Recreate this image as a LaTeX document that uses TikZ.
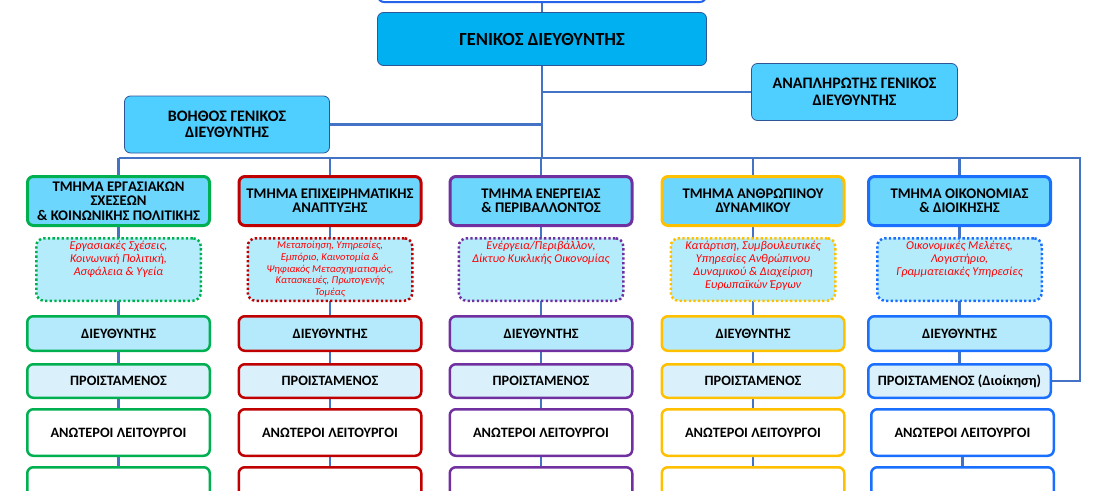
\documentclass[tikz,border=0pt]{standalone}
\usepackage{fontspec}
\setmainfont{Carlito}
\usepackage{tikz}
\usetikzlibrary{positioning}
\definecolor{lineblue}{HTML}{4472C4}
\definecolor{boardblue}{HTML}{2563EB}
\definecolor{gdfill}{HTML}{00B0F0}
\definecolor{gdborder}{HTML}{2F5597}
\definecolor{deputyfill}{HTML}{4FCFFF}
\definecolor{deptfill}{HTML}{6DD6FC}
\definecolor{dutyfill}{HTML}{B5ECFC}
\definecolor{dirfill}{HTML}{B4EAFB}
\definecolor{headfill}{HTML}{DAF1FC}
\definecolor{labour}{HTML}{00B050}
\definecolor{business}{HTML}{C00000}
\definecolor{energy}{HTML}{7030A0}
\definecolor{human}{HTML}{FFC000}
\definecolor{econ}{HTML}{1A6FFF}
\definecolor{dutyred}{HTML}{FF0000}
\newcommand{\duties}[1]{\parbox[c][56pt][t]{160pt}{\centering #1}}
\pgfdeclarelayer{background}
\pgfsetlayers{background,main}

\begin{document}
\begin{tikzpicture}[x=1pt,y=-1pt]
\tikzset{%
	board/.style = { rectangle, rounded corners=6pt, draw=boardblue, line width=2pt, fill=white, minimum width=328pt, minimum height=42pt},
	general/.style = { rectangle, rounded corners=6pt, draw=gdborder, line width=0.8pt, fill=gdfill, minimum width=329pt, minimum height=53pt, font=\bfseries\fontsize{18.5}{20}\selectfont},
	deputy/.style = { rectangle, rounded corners=6pt, draw=gdborder, line width=0.8pt, fill=deputyfill, minimum width=206pt, minimum height=57pt, align=center, font=\bfseries\fontsize{16}{16.5}\selectfont},
	dept/.style = { rectangle, rounded corners=6pt, draw=#1, line width=3pt, fill=deptfill, minimum width=182pt, minimum height=49pt, inner sep=2pt, align=center, font=\bfseries\fontsize{14.7}{14.3}\selectfont},
	duty/.style = { rectangle, rounded corners=8pt, draw=#1, line width=2.5pt, dash pattern=on 2.3pt off 2.3pt, fill=dutyfill, minimum width=164.5pt, minimum height=62.5pt, inner sep=0pt, text=dutyred, font=\itshape\fontsize{12}{12.8}\selectfont},
	director/.style = { rectangle, rounded corners=6pt, draw=#1, line width=2.5pt, fill=dirfill, minimum width=182.5pt, minimum height=34.5pt, font=\bfseries\fontsize{14.3}{15}\selectfont},
	head/.style = { director=#1, fill=headfill, minimum height=33.5pt},
	senior/.style = { director=#1, fill=white, minimum height=46.5pt},
	link/.style = { draw=lineblue, line width=2.8pt}
}
\clip (0,0) rectangle (1095,490);

\node(Board)			[board] at (542,-19) {};
\node(GenDir)			[general] at (542,39)
								{ΓΕΝΙΚΟΣ ΔΙΕΥΘΥΝΤΗΣ};
\node(DepGenDir)		[deputy, minimum width=206pt] at (854.5,92)
								{ΑΝΑΠΛΗΡΩΤΗΣ ΓΕΝΙΚΟΣ\\ΔΙΕΥΘΥΝΤΗΣ};
\node(AsstDir)			[deputy, minimum width=205pt] at (227,124.5)
								{ΒΟΗΘΟΣ ΓΕΝΙΚΟΣ\\ΔΙΕΥΘΥΝΤΗΣ};

\coordinate(BusL)		at (118.5,158);
\coordinate(BusM)		at (542,158);
\coordinate(BusR)		at (1080,158);

% departments
\node(DeptLabour)		[dept=labour] at (118.5,201)
								{ΤΜΗΜΑ ΕΡΓΑΣΙΑΚΩΝ\\ΣΧΕΣΕΩΝ\\\& ΚΟΙΝΩΝΙΚΗΣ ΠΟΛΙΤΙΚΗΣ};
\node(DeptBusiness)	[dept=business] at (330,201)
								{ΤΜΗΜΑ ΕΠΙΧΕΙΡΗΜΑΤΙΚΗΣ\\ΑΝΑΠΤΥΞΗΣ};
\node(DeptEnergy)		[dept=energy] at (541,201)
								{ΤΜΗΜΑ ΕΝΕΡΓΕΙΑΣ\\\& ΠΕΡΙΒΑΛΛΟΝΤΟΣ};
\node(DeptHuman)		[dept=human] at (753,201)
								{ΤΜΗΜΑ ΑΝΘΡΩΠΙΝΟΥ\\ΔΥΝΑΜΙΚΟΥ};
\node(DeptEcon)		[dept=econ] at (959.5,201)
								{ΤΜΗΜΑ ΟΙΚΟΝΟΜΙΑΣ\\\& ΔΙΟΙΚΗΣΗΣ};

% fields of each department
\node(DutyLabour)		[duty=labour, below=10pt of DeptLabour]
								{\duties{Εργασιακές Σχέσεις,\\Κοινωνική Πολιτική,\\Ασφάλεια \& Υγεία}};
\node(DutyBusiness)	[duty=business, below=10pt of DeptBusiness]
								{\duties{\fontsize{10.5}{11.7}\selectfont Μεταποίηση, Υπηρεσίες,\\Εμπόριο, Καινοτομία \&\\Ψηφιακός Μετασχηματισμός,\\Κατασκευές, Πρωτογενής\\Τομέας}};
\node(DutyEnergy)		[duty=energy, below=10pt of DeptEnergy]
								{\duties{Ενέργεια/Περιβάλλον,\\Δίκτυο Κυκλικής Οικονομίας}};
\node(DutyHuman)		[duty=human, below=10pt of DeptHuman]
								{\duties{Κατάρτιση, Συμβουλευτικές\\Υπηρεσίες Ανθρώπινου\\Δυναμικού \& Διαχείριση\\Ευρωπαϊκών Έργων}};
\node(DutyEcon)		[duty=econ, below=10pt of DeptEcon]
								{\duties{Οικονομικές Μελέτες,\\Λογιστήριο,\\Γραμματειακές Υπηρεσίες}};

% directors
\node(DirLabour)		[director=labour, below=13pt of DutyLabour]		{ΔΙΕΥΘΥΝΤΗΣ};
\node(DirBusiness)		[director=business, below=13pt of DutyBusiness]	{ΔΙΕΥΘΥΝΤΗΣ};
\node(DirEnergy)		[director=energy, below=13pt of DutyEnergy]		{ΔΙΕΥΘΥΝΤΗΣ};
\node(DirHuman)		[director=human, below=13pt of DutyHuman]		{ΔΙΕΥΘΥΝΤΗΣ};
\node(DirEcon)			[director=econ, below=13pt of DutyEcon]			{ΔΙΕΥΘΥΝΤΗΣ};

% heads of unit
\node(HeadLabour)		[head=labour, below=11pt of DirLabour]			{ΠΡΟΙΣΤΑΜΕΝΟΣ};
\node(HeadBusiness)	[head=business, below=11pt of DirBusiness]		{ΠΡΟΙΣΤΑΜΕΝΟΣ};
\node(HeadEnergy)		[head=energy, below=11pt of DirEnergy]			{ΠΡΟΙΣΤΑΜΕΝΟΣ};
\node(HeadHuman)		[head=human, below=11pt of DirHuman]			{ΠΡΟΙΣΤΑΜΕΝΟΣ};
\node(HeadEcon)		[head=econ, below=11pt of DirEcon]				{ΠΡΟΙΣΤΑΜΕΝΟΣ (Διοίκηση)};

% senior officers
\node(SeniorLabour)	[senior=labour, below=9pt of HeadLabour]			{ΑΝΩΤΕΡΟΙ ΛΕΙΤΟΥΡΓΟΙ};
\node(SeniorBusiness)	[senior=business, below=9pt of HeadBusiness]		{ΑΝΩΤΕΡΟΙ ΛΕΙΤΟΥΡΓΟΙ};
\node(SeniorEnergy)	[senior=energy, below=9pt of HeadEnergy]			{ΑΝΩΤΕΡΟΙ ΛΕΙΤΟΥΡΓΟΙ};
\node(SeniorHuman)	[senior=human, below=9pt of HeadHuman]			{ΑΝΩΤΕΡΟΙ ΛΕΙΤΟΥΡΓΟΙ};
\node(SeniorEcon)		[senior=econ, below=9pt of HeadEcon, xshift=3pt]	{ΑΝΩΤΕΡΟΙ ΛΕΙΤΟΥΡΓΟΙ};

% officers (cut off)
\node(LastLabour)		[senior=labour, below=9pt of SeniorLabour]		{};
\node(LastBusiness)	[senior=business, below=9pt of SeniorBusiness]	{};
\node(LastEnergy)		[senior=energy, below=9pt of SeniorEnergy]		{};
\node(LastHuman)		[senior=human, below=9pt of SeniorHuman]		{};
\node(LastEcon)		[senior=econ, below=9pt of SeniorEcon]			{};

\begin{pgfonlayer}{background}
\draw [link]	(Board) -- (GenDir) -- (BusM);
\draw [link]	(GenDir.south |- DepGenDir.west) -- (DepGenDir.west);
\draw [link]	(AsstDir.east) -- (GenDir.south |- AsstDir.east);
\draw [link]	(BusL) -- (BusR) |- (HeadEcon.east);

\draw [link]	(DeptLabour |- BusL) -- (DeptLabour) -- (LastLabour);
\draw [link]	(DeptBusiness |- BusL) -- (DeptBusiness) -- (LastBusiness);
\draw [link]	(DeptEnergy |- BusL) -- (DeptEnergy) -- (LastEnergy);
\draw [link]	(DeptHuman |- BusL) -- (DeptHuman) -- (LastHuman);
\draw [link]	(DeptEcon |- BusL) -- (DeptEcon) -- (HeadEcon);
\draw [link]	(SeniorEcon) -- (LastEcon);
\end{pgfonlayer}

\end{tikzpicture}
\end{document}
